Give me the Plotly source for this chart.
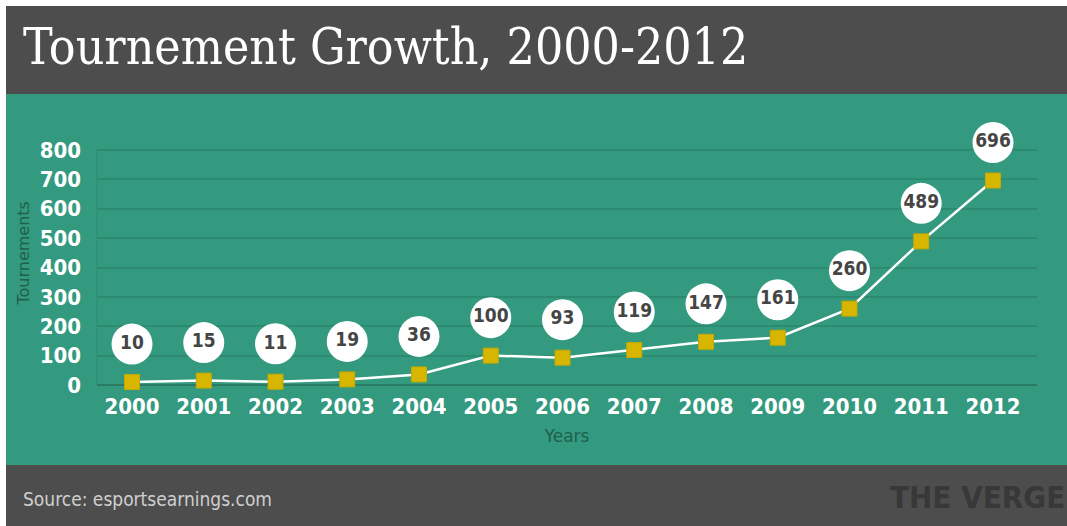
import plotly.graph_objects as go

years = ["2000", "2001", "2002", "2003", "2004", "2005", "2006",
         "2007", "2008", "2009", "2010", "2011", "2012"]
tournaments = [10, 15, 11, 19, 36, 100, 93, 119, 147, 161, 260, 489, 696]
y_ticks = [0, 100, 200, 300, 400, 500, 600, 700, 800]

W, H = 1067, 526
GREEN = "#339a7f"
DARK = "#4d4d4d"
NARROW = "DejaVu Sans Condensed, sans-serif"

# plot area in pixels
px_left, px_right = 97, 1037
px_grid_top, px_bottom = 150, 385
y_grid_max = 800
px_per_unit = (px_bottom - px_grid_top) / y_grid_max
y_max = 900  # room for the top bubble
px_top = px_bottom - y_max * px_per_unit
label_offset = 38 / px_per_unit  # bubble sits ~38px above its point

x_idx = list(range(len(years)))

fig = go.Figure()

fig.add_trace(go.Scatter(
    x=x_idx, y=tournaments, mode="lines+markers",
    line=dict(color="white", width=2.5),
    marker=dict(symbol="square", size=15, color="#d6b600",
                line=dict(color="#c4a800", width=1)),
    cliponaxis=False, hoverinfo="skip", showlegend=False,
))

fig.add_trace(go.Scatter(
    x=x_idx, y=[v + label_offset for v in tournaments],
    mode="markers+text",
    marker=dict(symbol="circle", size=41, color="white"),
    text=[str(v) for v in tournaments], textposition="middle center",
    textfont=dict(family=NARROW, size=19, color="#454545", weight="bold"),
    cliponaxis=False, hoverinfo="skip", showlegend=False,
))

shapes = [
    dict(type="rect", xref="paper", yref="paper", x0=0, x1=1, y0=0, y1=1,
         fillcolor="white", line_width=0, layer="below"),
    dict(type="rect", xref="paper", yref="paper", x0=6 / W, x1=1,
         y0=1 - 94 / H, y1=1 - 6 / H, fillcolor=DARK, line_width=0, layer="below"),
    dict(type="rect", xref="paper", yref="paper", x0=6 / W, x1=1,
         y0=1 - 465 / H, y1=1 - 94 / H, fillcolor=GREEN, line_width=0, layer="below"),
    dict(type="rect", xref="paper", yref="paper", x0=6 / W, x1=1,
         y0=0, y1=1 - 465 / H, fillcolor=DARK, line_width=0, layer="below"),
    dict(type="line", xref="x domain", yref="y", x0=0, x1=0, y0=0, y1=y_grid_max,
         line=dict(color="#2c8a70", width=1), layer="below"),
]

annotations = [
    dict(text="Tournement Growth, 2000-2012", xref="paper", yref="paper",
         x=21 / W, y=1 - 47 / H, xanchor="left", yanchor="middle", showarrow=False,
         font=dict(family="DejaVu Serif Condensed, DejaVu Serif, serif", size=49.5, color="white")),
    dict(text="Source: esportsearnings.com", xref="paper", yref="paper",
         x=21 / W, y=1 - 499 / H, xanchor="left", yanchor="middle", showarrow=False,
         font=dict(family="DejaVu Sans Condensed, sans-serif", size=19, color="#cfcfcf")),
    dict(text="<b>THE VERGE</b>", xref="paper", yref="paper",
         x=1, y=1 - 497 / H, xanchor="right", yanchor="middle", showarrow=False,
         font=dict(family="DejaVu Sans Condensed, sans-serif", size=31, color="#383838")),
]

left_unit = (132 - px_left) / 71.75
right_unit = (px_right - px_left) / 71.75 - left_unit

fig.update_layout(
    template="none",
    width=W, height=H,
    margin=dict(l=0, r=0, t=0, b=0, pad=0),
    paper_bgcolor="white", plot_bgcolor="rgba(0,0,0,0)",
    shapes=shapes, annotations=annotations,
    xaxis=dict(
        automargin=False,
        domain=[px_left / W, px_right / W],
        range=[-left_unit, right_unit],
        tickvals=x_idx, ticktext=years,
        showgrid=False, zeroline=False, showline=False,
        ticks="", ticklabelstandoff=6,
        tickfont=dict(family=NARROW, size=22, color="white", weight="bold"),
        title=dict(text="Years", standoff=12,
                   font=dict(family="DejaVu Sans, sans-serif", size=17, color="#1f5f4d")),
    ),
    yaxis=dict(
        automargin=False,
        domain=[1 - px_bottom / H, 1 - px_top / H],
        range=[0, y_max],
        tickvals=y_ticks, ticktext=[str(v) for v in y_ticks],
        showgrid=True, gridcolor="#2c8a70", gridwidth=1.5,
        zeroline=True, zerolinecolor="#2a7a64", zerolinewidth=2,
        showline=False,
        ticks="", ticklabelstandoff=15,
        tickfont=dict(family=NARROW, size=22, color="white", weight="bold"),
        title=dict(text="Tournements", standoff=6,
                   font=dict(family="DejaVu Sans, sans-serif", size=16, color="#1f5f4d")),
    ),
)

fig.write_html("out.html")
